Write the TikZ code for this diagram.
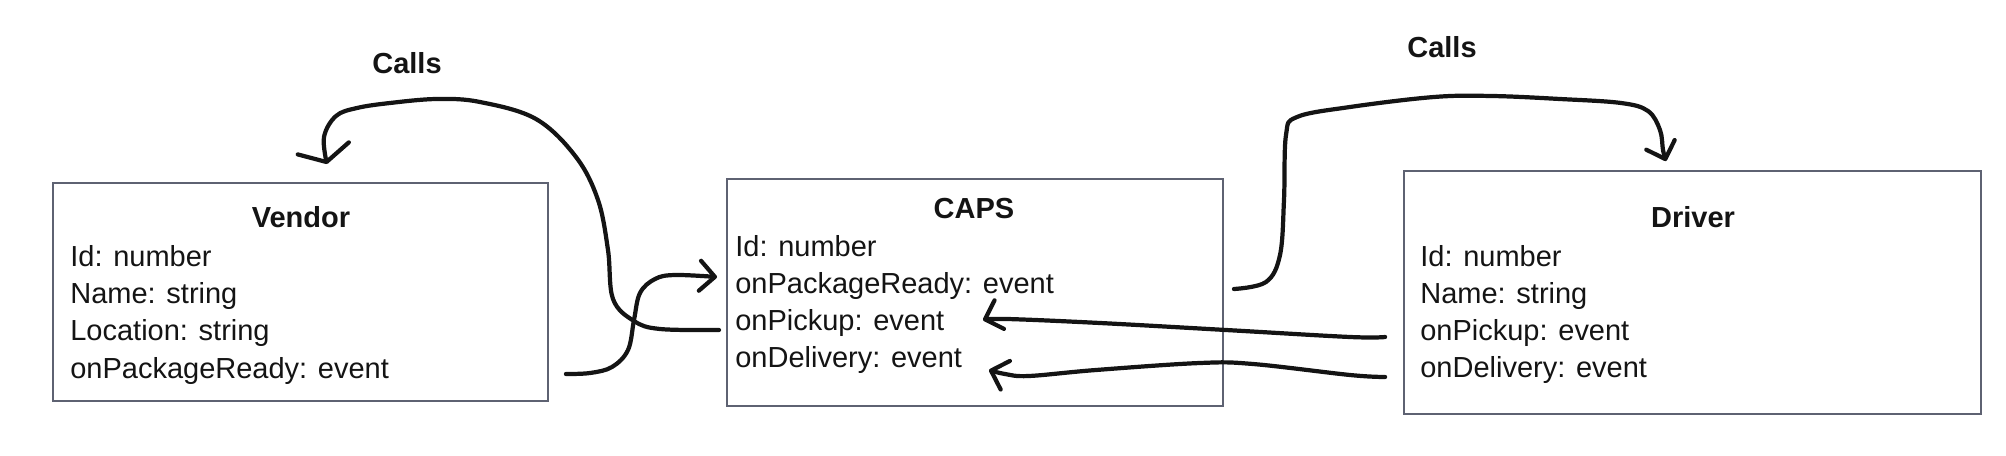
\documentclass[tikz,border=0pt]{standalone}
\usepackage{fontspec}
\setmainfont{Liberation Sans}
\usetikzlibrary{arrows.meta}
\definecolor{boxline}{HTML}{5E6272}
\definecolor{ink}{HTML}{141414}
\tikzset{
  entity/.style={draw=boxline, line width=1.1pt, inner sep=0pt},
  title/.style={anchor=base, inner sep=0pt, text=ink, font=\fontsize{16.5}{20}\selectfont\bfseries},
  attr/.style={anchor=base west, inner sep=0pt, text=ink, font=\fontsize{16.5}{20}\selectfont},
  conn/.style={draw=ink, line width=2.4pt, line cap=round, line join=round,
    -{Straight Barb[round, length=0.3cm, width=0.6cm]}},
  wide head/.style={-{Straight Barb[round, length=0.28cm, width=1.05cm]}}
}
\begin{document}
\begin{tikzpicture}[x=0.02cm, y=-0.02cm]
  \useasboundingbox (0,0) rectangle (2006,456);
  % the three boxes
  \node[entity, minimum width=9.9cm, minimum height=4.36cm] (vendor) at (300.5,292) {};
  \node[entity, minimum width=9.92cm, minimum height=4.54cm] (caps) at (975,292.5) {};
  \node[entity, minimum width=11.54cm, minimum height=4.86cm] (driver) at (1692.5,292.5) {};
  % vendor
  \node[title] (vTitle) at (301,228) {Vendor};
  \node[attr] (v1) at (70,266) {Id: number};
  \node[attr] (v2) at (70,303) {Name: string};
  \node[attr] (v3) at (70,340) {Location: string};
  \node[attr] (v4) at (70,378) {onPackageReady: event};
  % caps
  \node[title] (cTitle) at (974,218) {CAPS};
  \node[attr] (c1) at (735,256) {Id: number};
  \node[attr] (c2) at (735,293) {onPackageReady: event};
  \node[attr] (c3) at (735,330) {onPickup: event};
  \node[attr] (c4) at (735,367) {onDelivery: event};
  % driver
  \node[title] (dTitle) at (1693,228) {Driver};
  \node[attr] (d1) at (1420,266) {Id: number};
  \node[attr] (d2) at (1420,303) {Name: string};
  \node[attr] (d3) at (1420,340) {onPickup: event};
  \node[attr] (d4) at (1420,377) {onDelivery: event};
  % labels
  \node[title] (callsLeft) at (407,74) {Calls};
  \node[title] (callsRight) at (1442,58) {Calls};
  % connector ends
  \coordinate (vendorIn) at ([shift={(0.53cm,0.36cm)}]vendor.north);
  \coordinate (capsPickOut) at ([xshift=-0.32cm]c3.base west);
  \coordinate (vendorOut) at ([shift={(0.34cm,-1.64cm)}]vendor.east);
  \coordinate (capsPkgIn) at ([shift={(-0.36cm,0.32cm)}]c2.base west);
  \coordinate (capsOut) at ([shift={(0.2cm,0.07cm)}]caps.east);
  \coordinate (driverIn) at ([shift={(-0.53cm,0.18cm)}]driver.north);
  \coordinate (driverPickOut) at ([shift={(-0.36cm,-0.89cm)}]driver.west);
  \coordinate (capsPickIn) at ([shift={(0.16cm,-0.55cm)}]caps.center);
  \coordinate (driverDelOut) at ([shift={(-0.36cm,-1.69cm)}]driver.west);
  \coordinate (capsDelIn) at ([shift={(0.28cm,-1.55cm)}]caps.center);
  % hand drawn connectors
  \draw[conn, wide head] plot[smooth, tension=0.6] coordinates {(capsPickOut) (660,329) (634,321) (613,299)
    (608,250) (598,200) (576,157) (536,119) (480,102) (437,99) (390,103) (357,108) (336,116)
    (324,137) (vendorIn)};
  \draw[conn] plot[smooth, tension=0.6] coordinates {(vendorOut) (590,373) (612,367) (628,350)
    (634,320) (640,293) (655,279) (675,275) (capsPkgIn)};
  \draw[conn] plot[smooth, tension=0.6] coordinates {(capsOut) (1266,282) (1280,255) (1284,200)
    (1286,135) (1297,117) (1350,107) (1434,97) (1492,96) (1560,99) (1621,103) (1648,111)
    (1660,130) (1663,150) (driverIn)};
  \draw[conn] plot[smooth, tension=0.6] coordinates {(driverPickOut) (1350,337) (1226,330)
    (1100,323) (1007,319) (capsPickIn)};
  \draw[conn] plot[smooth, tension=0.6] coordinates {(driverDelOut) (1350,375) (1253,364)
    (1200,363) (1096,370) (1029,376) (1005,374) (capsDelIn)};
\end{tikzpicture}
\end{document}
